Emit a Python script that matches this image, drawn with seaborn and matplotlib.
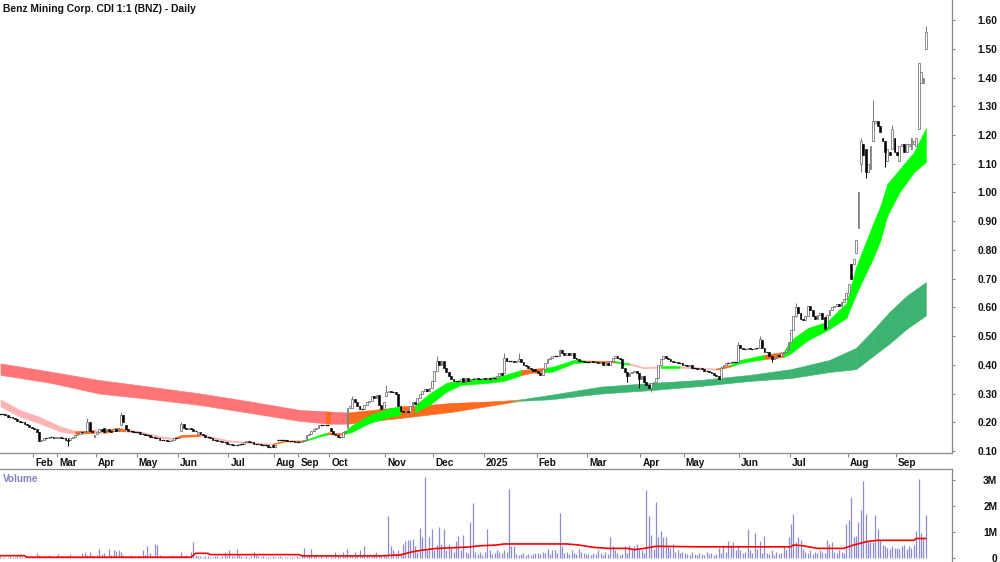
import matplotlib
matplotlib.use("Agg")
import matplotlib.pyplot as plt
import matplotlib.transforms as mtransforms
import numpy as np
import pandas as pd
import seaborn as sns

TITLE = "Benz Mining Corp. CDI 1:1 (BNZ) - Daily"

# ---- daily candles (prices in cents) and volume (thousands), one set per month ----
jan24_open = [23, 23, 23, 22.5, 22, 22, 21.5, 21, 20.5, 20, 20, 19.5, 19, 18.5]
jan24_close = [23, 23, 22.5, 22, 22, 21.5, 21, 20.5, 20, 20, 19.5, 19, 18.5, 18]
jan24_vol = [60, 40, 30, 50, 80, 40, 30, 60, 150, 50, 40, 30, 60, 40]

feb24_open = [18, 17.5, 16.5, 13.5, 14, 14.5, 14.5, 15, 15, 14.5]
feb24_close = [17.5, 16.5, 13.5, 14, 14.5, 14.5, 15, 15, 14.5, 15]
feb24_vol = [80, 200, 120, 60, 90, 50, 100, 60, 40, 70]

mar24_open = [14.5, 15, 14.5, 14.5, 14, 14, 14.5, 15, 15.5, 16, 16.5, 16.5, 17, 20, 17, 15]
mar24_close = [15, 14.5, 14.5, 14, 13.5, 14.5, 15, 15.5, 16, 16.5, 16.5, 17, 20, 17, 16.5, 15.5]
mar24_vol = [150, 60, 90, 40, 70, 150, 60, 50, 80, 40, 200, 250, 120, 220, 100, 60]

apr24_open = [16, 16.5, 17.5, 18, 17, 17.5, 17, 17, 17.5, 17, 19, 22.5, 19, 17.5, 17, 17, 16.5]
apr24_close = [16.5, 17.5, 17, 16.5, 17.5, 17, 16.5, 17.5, 17, 18, 22.5, 20, 17.5, 17, 17, 16.5, 16.5]
apr24_vol = [120, 350, 150, 200, 60, 350, 120, 300, 280, 300, 250, 100, 80, 60, 120, 50, 80]

may24_open = [16.5, 16.5, 16, 16, 15.5, 15.5, 15, 15, 14.5, 14.5, 14, 14, 14, 13.5, 13.5, 14, 14.5]
may24_close = [16.5, 16, 16, 15.5, 15.5, 15, 15, 14.5, 14.5, 14, 14, 14, 13.5, 13.5, 14, 14.5, 14.5]
may24_vol = [60, 80, 300, 100, 450, 200, 80, 550, 500, 100, 80, 60, 50, 80, 100, 60, 70]

jun24_open = [14.5, 17, 19.5, 18, 17.5, 18, 17.5, 17, 16, 16.5, 16, 15.5, 15, 15, 14.5, 14, 14, 13.5, 13.5, 13, 13]
jun24_close = [15, 19.5, 18, 17.5, 18, 17.5, 17, 17, 16.5, 16, 15.5, 15, 15, 14.5, 14, 14, 13.5, 13.5, 13, 13, 12.5]
jun24_vol = [80, 250, 60, 100, 80, 250, 600, 100, 60, 80, 50, 60, 90, 40, 30, 60, 80, 40, 60, 250, 80]

jul24_open = [12.5, 12.5, 12, 12, 12, 12.5, 12.5, 13, 13.5, 13, 13, 12.5, 12.5, 12.5, 12, 12, 12, 11.5, 12]
jul24_close = [12.5, 12, 12, 12, 12.5, 12.5, 13, 13.5, 13, 13, 12.5, 12.5, 12.5, 12, 12, 12, 11.5, 11.5, 11.5]
jul24_vol = [300, 80, 60, 350, 100, 60, 40, 80, 50, 60, 250, 100, 60, 40, 80, 50, 40, 30, 60]

aug24_open = [11.5, 14, 14, 14, 14, 14, 13.5, 13.5, 13.5, 13]
aug24_close = [12, 14, 14, 14, 14, 13.5, 13.5, 13.5, 13, 13]
aug24_vol = [40, 30, 60, 40, 30, 20, 50, 30, 40, 60]

sep24_open = [13, 13, 13.5, 14, 15.5, 16, 17, 17.5, 18, 19, 19, 19, 19]
sep24_close = [13, 13.5, 14, 15.5, 16, 17, 17.5, 18, 19, 19, 19, 19, 19]
sep24_vol = [40, 60, 400, 80, 60, 350, 100, 60, 40, 80, 50, 60, 40]

oct24_open = [18, 17, 16, 15.5, 15, 15, 16.5, 18, 25, 25, 28, 27, 25.5, 24.5, 24.5, 26, 27, 27.5, 29, 28.5, 29.5, 26, 24.5]
oct24_close = [17, 16, 15.5, 15, 15, 16.5, 17, 25, 25.5, 28, 27, 25.5, 24.5, 24.5, 26, 27, 27.5, 29, 28.5, 29.5, 26, 24.5, 27]
oct24_vol = [60, 40, 250, 100, 80, 250, 60, 350, 120, 80, 250, 100, 300, 120, 450, 100, 60, 80, 150, 250, 100, 80, 120]

nov24_open = [29, 30.5, 31, 30.5, 30.5, 30, 25.5, 24, 23.5, 24, 23.5, 25.5, 27, 26.5, 28.5, 30, 31, 31.5, 31, 32]
nov24_close = [30.5, 31, 30.5, 30.5, 30, 25.5, 24, 23.5, 24, 23.5, 25.5, 27, 26.5, 28.5, 30, 31, 31.5, 31, 32, 34.5]
nov24_vol = [120, 1600, 450, 300, 150, 300, 200, 550, 650, 700, 700, 750, 450, 250, 1150, 800, 3100, 300, 800, 1100]

dec24_open = [34.5, 38, 41.5, 40, 41.5, 39, 37.5, 36, 35, 34.5, 34.5, 34.5, 35.5, 34, 35.5, 34.5, 35, 35, 35.5, 35, 35]
dec24_close = [38, 41.5, 40, 41.5, 39, 37.5, 36, 35, 34.5, 34.5, 34.5, 35, 34, 35.5, 34.5, 35, 35, 35.5, 35, 35, 35.5]
dec24_vol = [300, 500, 1200, 550, 1100, 300, 550, 400, 250, 650, 850, 300, 900, 250, 200, 1400, 2100, 250, 150, 250, 100]

jan25_open = [35.5, 35, 35.5, 35, 35.5, 35.5, 36, 37, 37, 42.5, 41.5, 41.5, 41.5, 41, 41.5, 42, 41, 40, 39.5, 39, 38.5, 38.5]
jan25_close = [35, 35.5, 35, 35.5, 35.5, 36, 37, 36.5, 42.5, 41.5, 41.5, 41.5, 41, 41.5, 42, 41, 40, 39.5, 39, 38.5, 38, 38]
jan25_vol = [250, 1100, 300, 150, 200, 300, 250, 200, 300, 250, 2650, 450, 450, 150, 100, 150, 200, 100, 150, 100, 150, 200]

feb25_open = [38, 37, 36.5, 38.5, 40.5, 42, 42.5, 43, 43, 43, 45, 44, 43.5, 44, 43.5, 44, 42.5, 42, 41.5, 41.5, 41]
feb25_close = [37, 36.5, 38.5, 40.5, 42, 42.5, 43, 43, 43, 45, 44, 43.5, 44, 43.5, 44, 42.5, 42, 41.5, 41.5, 41, 41]
feb25_vol = [200, 150, 250, 200, 350, 150, 300, 300, 200, 1750, 450, 200, 250, 150, 300, 200, 150, 350, 250, 200, 150]

mar25_open = [41, 41, 41.5, 41, 41, 40.5, 41, 40, 40.5, 40, 41.5, 42.5, 43, 42.5, 42, 39, 37.5, 36, 37, 37.5, 38, 37]
mar25_close = [41, 41.5, 41, 41, 40.5, 41, 40, 40.5, 40, 41.5, 42.5, 43, 42.5, 42, 39, 37.5, 36, 37, 37.5, 38, 37, 35]
mar25_vol = [150, 100, 200, 150, 300, 200, 100, 250, 150, 800, 450, 300, 200, 100, 150, 450, 200, 500, 300, 450, 550, 350]

apr25_open = [35, 36, 34, 33, 32, 33.5, 34, 35.5, 40, 42, 43, 42.5, 42, 41.5, 41, 41, 40.5, 40.5]
apr25_close = [36, 34, 33, 32, 33.5, 34, 35.5, 40, 42, 43, 42.5, 42, 41.5, 41, 41, 40.5, 40.5, 40]
apr25_vol = [300, 200, 2600, 1600, 900, 350, 2150, 800, 1050, 800, 800, 500, 400, 550, 250, 300, 200, 250]

may25_open = [40, 40, 39.5, 40, 39, 39, 38.5, 39, 38.5, 38, 38, 37.5, 37, 36.5, 36, 35, 39, 40, 40.5, 40.5, 41, 41, 41]
may25_close = [40, 39.5, 40, 39, 39, 38.5, 39, 38.5, 38, 38, 37.5, 37, 36.5, 36, 35, 39, 40, 40.5, 40.5, 41, 41, 41, 47]
may25_vol = [200, 150, 100, 250, 150, 100, 200, 150, 100, 250, 150, 200, 100, 150, 400, 200, 500, 250, 650, 500, 600, 300, 500]

jun25_open = [47, 46, 45.5, 45.5, 46, 45.5, 45.5, 46, 46, 48.5, 46, 44.5, 44.5, 43, 42, 42.5, 43.5, 43, 44, 44.5, 45]
jun25_close = [46, 45.5, 45.5, 46, 45.5, 45.5, 46, 46, 49, 46, 44.5, 44.5, 43, 42, 42.5, 43.5, 43, 44, 44.5, 45, 48]
jun25_vol = [300, 200, 250, 1100, 300, 200, 950, 350, 650, 200, 850, 200, 150, 300, 100, 250, 150, 200, 450, 300, 800]

jul25_open = [48, 52, 57, 60, 58, 56, 55.5, 57, 60.5, 59, 57, 56, 57.5, 58, 56.5, 53, 57.5, 59, 60, 60.5, 61, 60.5, 62, 63]
jul25_close = [52, 57, 60, 58, 56, 55.5, 57, 60.5, 59, 57, 56, 57.5, 58, 56, 52.5, 57.5, 59, 60, 60.5, 61, 60.5, 62, 63, 65]
jul25_vol = [1300, 1700, 600, 800, 700, 350, 250, 200, 300, 150, 250, 200, 300, 250, 200, 700, 550, 600, 250, 200, 300, 250, 200, 1300]

aug25_open = [65, 75, 75, 79, 87.5, 110, 117, 115, 107, 108, 118, 124, 125, 123, 119, 118, 111, 114, 115, 119]
aug25_close = [68, 70, 77, 83.5, 100, 118, 113, 107, 110, 116, 125, 125, 123, 121, 118, 114, 115, 113, 122, 114]
aug25_vol = [1450, 2350, 800, 850, 1400, 1850, 2950, 1700, 600, 600, 600, 1650, 1100, 700, 500, 450, 400, 350, 450, 400]

sep25_open = [114, 111, 116, 117, 114, 116, 115, 117, 116, 122, 138, 138, 150]
sep25_close = [113, 116, 117, 114, 117, 117, 119, 118, 119, 145, 142, 140, 156]
sep25_vol = [400, 350, 450, 500, 350, 450, 400, 500, 1050, 3050, 950, 800, 1650]

# wick extremes (low, high) in cents for bars with visible shadows
WICKS = {("Mar24", 4): (11.7, 14.5), ("Mar24", 12): (17, 21.5), ("Apr24", 10): (19, 23.5),
         ("Jun24", 1): (17, 20), ("Oct24", 9): (25, 29), ("Nov24", 0): (29, 33),
         ("Dec24", 1): (38, 43), ("Jan25", 8): (37, 44), ("Jan25", 14): (41, 44),
         ("Feb25", 9): (43, 45.5), ("Mar25", 16): (34, 37.5), ("Mar25", 21): (32, 37),
         ("Apr25", 4): (30.5, 33.5), ("May25", 15): (35, 39.5), ("May25", 22): (41, 48),
         ("Jun25", 8): (46, 50), ("Jun25", 13): (41, 43), ("Jul25", 2): (56.5, 61.5),
         ("Aug25", 5): (107, 119), ("Aug25", 7): (105, 115), ("Aug25", 10): (118, 132),
         ("Aug25", 15): (109, 118), ("Aug25", 18): (115, 123.5), ("Sep25", 9): (122, 145),
         ("Sep25", 12): (150, 158)}

# Guppy ribbons: short-term group and long-term group (bar index, top, bottom, colour code)
short_g = [0, 8, 16, 25, 31, 35, 39, 43, 48, 52, 58, 66, 72, 75, 83, 95, 108, 113, 118, 126,
           133, 136, 142, 146, 153, 162, 166, 172, 178, 185, 191, 202, 209, 216, 220, 226, 229, 238, 243, 255,
           261, 267, 274, 282, 297, 303, 307, 317, 325, 328, 335, 343, 351, 355, 362, 365, 368, 373, 379, 384]
short_top = [0.28, 0.243, 0.22, 0.185, 0.17, 0.17, 0.173, 0.169, 0.181, 0.176, 0.168, 0.152, 0.146, 0.156, 0.158,
             0.137, 0.128, 0.126, 0.136, 0.137, 0.158, 0.165, 0.162, 0.19, 0.225, 0.25, 0.255, 0.258, 0.30, 0.337,
             0.347, 0.354, 0.364, 0.382, 0.385, 0.39, 0.393, 0.417, 0.415, 0.413, 0.405, 0.392, 0.395, 0.395, 0.387,
             0.40, 0.417, 0.435, 0.445, 0.486, 0.528, 0.55, 0.615, 0.74, 0.89, 0.95, 1.03, 1.08, 1.14, 1.224]
short_bot = [0.255, 0.22, 0.197, 0.167, 0.16, 0.161, 0.163, 0.163, 0.17, 0.168, 0.163, 0.146, 0.141, 0.149, 0.152,
             0.133, 0.124, 0.123, 0.133, 0.134, 0.152, 0.158, 0.157, 0.167, 0.197, 0.22, 0.225, 0.235, 0.26, 0.306,
             0.33, 0.337, 0.344, 0.364, 0.372, 0.375, 0.376, 0.406, 0.409, 0.408, 0.40, 0.388, 0.39, 0.39, 0.383,
             0.394, 0.406, 0.42, 0.427, 0.44, 0.486, 0.52, 0.563, 0.645, 0.77, 0.83, 0.92, 1.0, 1.07, 1.106]
short_col = "ppppoopooppp" + "oopppoog" + "goggggoggg" + "gggoogggog" + "ppgpoggogg" + "gggggggggg"

long_g = [0, 21, 41, 62, 83, 104, 124, 135, 137, 144, 166, 187, 207, 212, 216, 228, 249, 270, 290, 311,
          328, 344, 355, 362, 369, 376, 384]
long_top = [0.405, 0.376, 0.347, 0.324, 0.30, 0.272, 0.243, 0.238, 0.237, 0.234, 0.253, 0.267, 0.274, 0.277,
            0.28, 0.295, 0.324, 0.337, 0.347, 0.365, 0.385, 0.417, 0.459, 0.52, 0.585, 0.64, 0.688]
long_bot = [0.365, 0.337, 0.30, 0.281, 0.26, 0.232, 0.205, 0.196, 0.195, 0.195, 0.215, 0.236, 0.263, 0.27,
            0.275, 0.28, 0.30, 0.312, 0.326, 0.344, 0.354, 0.375, 0.385, 0.43, 0.475, 0.525, 0.572]
long_col = "rrrrrrr" + "o" + "r" + "oooo" + "m" + "ggggggggggggg"

# volume moving average (bar index, millions)
vma_g = [0, 10, 11, 79, 81, 86, 87, 124, 125, 157, 166, 171, 175, 180, 184, 194, 199, 206, 209, 235,
         240, 246, 252, 260, 263, 267, 272, 290, 328, 329, 333, 339, 350, 354, 360, 364, 379, 380, 384]
vma_v = [0.09, 0.09, 0.03, 0.03, 0.18, 0.18, 0.13, 0.13, 0.08, 0.08, 0.12, 0.24, 0.30, 0.36, 0.38, 0.42,
         0.47, 0.50, 0.54, 0.54, 0.50, 0.41, 0.37, 0.37, 0.32, 0.37, 0.45, 0.43, 0.43, 0.50, 0.47, 0.37,
         0.37, 0.50, 0.64, 0.68, 0.68, 0.75, 0.75]

price_ticks = [0.10, 0.20, 0.30, 0.40, 0.50, 0.60, 0.70, 0.80, 0.90, 1.00, 1.10, 1.20, 1.30, 1.40, 1.50, 1.60]
vol_ticks = [0, 1, 2, 3]
vol_tick_labels = ["0", "1M", "2M", "3M"]

MONTHS = [
    ("Jan24", "", jan24_open, jan24_close, jan24_vol),
    ("Feb24", "Feb", feb24_open, feb24_close, feb24_vol),
    ("Mar24", "Mar", mar24_open, mar24_close, mar24_vol),
    ("Apr24", "Apr", apr24_open, apr24_close, apr24_vol),
    ("May24", "May", may24_open, may24_close, may24_vol),
    ("Jun24", "Jun", jun24_open, jun24_close, jun24_vol),
    ("Jul24", "Jul", jul24_open, jul24_close, jul24_vol),
    ("Aug24", "Aug", aug24_open, aug24_close, aug24_vol),
    ("Sep24", "Sep", sep24_open, sep24_close, sep24_vol),
    ("Oct24", "Oct", oct24_open, oct24_close, oct24_vol),
    ("Nov24", "Nov", nov24_open, nov24_close, nov24_vol),
    ("Dec24", "Dec", dec24_open, dec24_close, dec24_vol),
    ("Jan25", "2025", jan25_open, jan25_close, jan25_vol),
    ("Feb25", "Feb", feb25_open, feb25_close, feb25_vol),
    ("Mar25", "Mar", mar25_open, mar25_close, mar25_vol),
    ("Apr25", "Apr", apr25_open, apr25_close, apr25_vol),
    ("May25", "May", may25_open, may25_close, may25_vol),
    ("Jun25", "Jun", jun25_open, jun25_close, jun25_vol),
    ("Jul25", "Jul", jul25_open, jul25_close, jul25_vol),
    ("Aug25", "Aug", aug25_open, aug25_close, aug25_vol),
    ("Sep25", "Sep", sep25_open, sep25_close, sep25_vol),
]

# ---------------- build table ----------------
rows = []
month_starts = []
for key, label, o, c, v in MONTHS:
    assert len(o) == len(c) == len(v), key
    month_starts.append((len(rows), label))
    for i in range(len(o)):
        rows.append(dict(month=key, i=i, open=o[i] / 100, close=c[i] / 100, vol=v[i] / 1000))
df = pd.DataFrame(rows)
df["g"] = np.arange(len(df))
df["hi"] = np.maximum(df["open"], df["close"])
df["lo"] = np.minimum(df["open"], df["close"])
for (m, i), (l, h) in WICKS.items():
    idx = df.index[(df["month"] == m) & (df["i"] == i)][0]
    df.loc[idx, "lo"] = min(df.loc[idx, "lo"], l / 100)
    df.loc[idx, "hi"] = max(df.loc[idx, "hi"], h / 100)

# ---------------- style ----------------
sns.set_theme(style="white")
plt.rcParams["font.family"] = ["Liberation Sans", "DejaVu Sans"]

RED = "#FF7474"
ORANGE = "#FF6A1E"
PINK = "#FFB4B4"
GREEN = "#00FF00"
DKGREEN = "#3CB371"
MID = "#A89A55"
AXC = "#888888"
COLS = {"r": RED, "o": ORANGE, "p": PINK, "g": GREEN, "m": MID}
LCOLS = {"r": RED, "o": ORANGE, "g": DKGREEN, "m": MID}

W, H = 1000, 562
fig = plt.figure(figsize=(10, 5.62), dpi=100)
fig.patch.set_facecolor("white")
PR = 952  # right edge of plot area in px
ax = fig.add_axes([0, (H - 453) / H, PR / W, 453 / H])
axv = fig.add_axes([0, 0, PR / W, (H - 469) / H])

XL = (-0.19, (PR - 0.46) / 2.41)


def draw_ribbon(axis, gs, tops, bots, cols, cmap, z):
    for k in range(len(gs) - 1):
        col = cmap[cols[k]]
        axis.fill_between([gs[k], gs[k + 1]], [bots[k], bots[k + 1]], [tops[k], tops[k + 1]],
                          color=col, linewidth=0.4, edgecolor=col, zorder=z)


draw_ribbon(ax, long_g, long_top, long_bot, long_col, LCOLS, 1)
draw_ribbon(ax, short_g, short_top, short_bot, short_col, COLS, 2)

up = df[df["close"] > df["open"]]
dn = df[df["close"] < df["open"]]
fl = df[df["close"] == df["open"]]
ax.vlines(up["g"], up["lo"], up["hi"], color="#777777", linewidth=0.7, zorder=3)
ax.vlines(dn["g"], dn["lo"], dn["hi"], color="black", linewidth=0.7, zorder=3)
ax.bar(up["g"], up["close"] - up["open"], bottom=up["open"], width=0.75,
       color="white", edgecolor="#6f6f6f", linewidth=0.55, zorder=4)
ax.bar(dn["g"], dn["open"] - dn["close"], bottom=dn["close"], width=0.75,
       color="black", edgecolor="black", linewidth=0.4, zorder=4)
ax.hlines(fl["close"], fl["g"] - 0.45, fl["g"] + 0.45, color="black", linewidth=0.9, zorder=4)

ax.set_xlim(*XL)
ax.set_ylim(0.10 - 2 / 287.3, 0.10 + 451 / 287.3)

# volume panel
axv.vlines(df["g"], 0, df["vol"], color="#8C8CD4", linewidth=0.9, zorder=2)
sns.lineplot(x=vma_g, y=vma_v, ax=axv, color="#FF0000", linewidth=1.2, estimator=None, sort=False, zorder=3)
axv.set_xlim(*XL)
axv.set_ylim(-4 / 26, (558 - 469) / 26)

for a in (ax, axv):
    a.set_facecolor("white")
    a.grid(False)
    for s in ("left", "top", "bottom", "right"):
        a.spines[s].set_visible(False)
    a.spines["right"].set_visible(True)
    a.spines["right"].set_color(AXC)
    a.spines["right"].set_linewidth(0.9)
    a.yaxis.tick_right()
    a.tick_params(axis="y", direction="out", length=2.5, width=0.8, color=AXC, pad=30,
                  labelsize=7.4, labelcolor="#111111")
    a.set_xlabel("")
    a.set_ylabel("")

ax.spines["bottom"].set_visible(True)
ax.spines["bottom"].set_color(AXC)
ax.spines["bottom"].set_linewidth(0.9)
axv.spines["top"].set_visible(True)
axv.spines["top"].set_color(AXC)
axv.spines["top"].set_linewidth(0.9)

ax.set_yticks(price_ticks)
ax.set_yticklabels([f"{v:.2f}" for v in price_ticks], fontweight="bold")
axv.set_yticks(vol_ticks)
axv.set_yticklabels(vol_tick_labels, fontweight="bold")
for a in (ax, axv):
    for lab in a.get_yticklabels():
        lab.set_horizontalalignment("right")

bounds = [s - 0.5 for s, lab in month_starts if lab]
ax.set_xticks(bounds)
ax.set_xticklabels([])
ax.tick_params(axis="x", bottom=True, direction="out", length=3, width=0.8, color=AXC)
axv.set_xticks([])

trans = mtransforms.blended_transform_factory(ax.transData, ax.transAxes)
for s, lab in month_starts:
    if lab:
        ax.text(s - 0.5 + 0.9, -9.5 / 453, lab, transform=trans, ha="left", va="center",
                fontsize=7.2, fontweight="bold", color="#111111", clip_on=False)

fig.text(3 / W, 1 - 8.5 / H, TITLE, ha="left", va="center", fontsize=7.4, fontweight="bold", color="#111111")
fig.text(3 / W, 1 - 478.5 / H, "Volume", ha="left", va="center", fontsize=7.2, fontweight="bold", color="#8282C8")

fig.savefig("out.png", dpi=100, facecolor="white")
